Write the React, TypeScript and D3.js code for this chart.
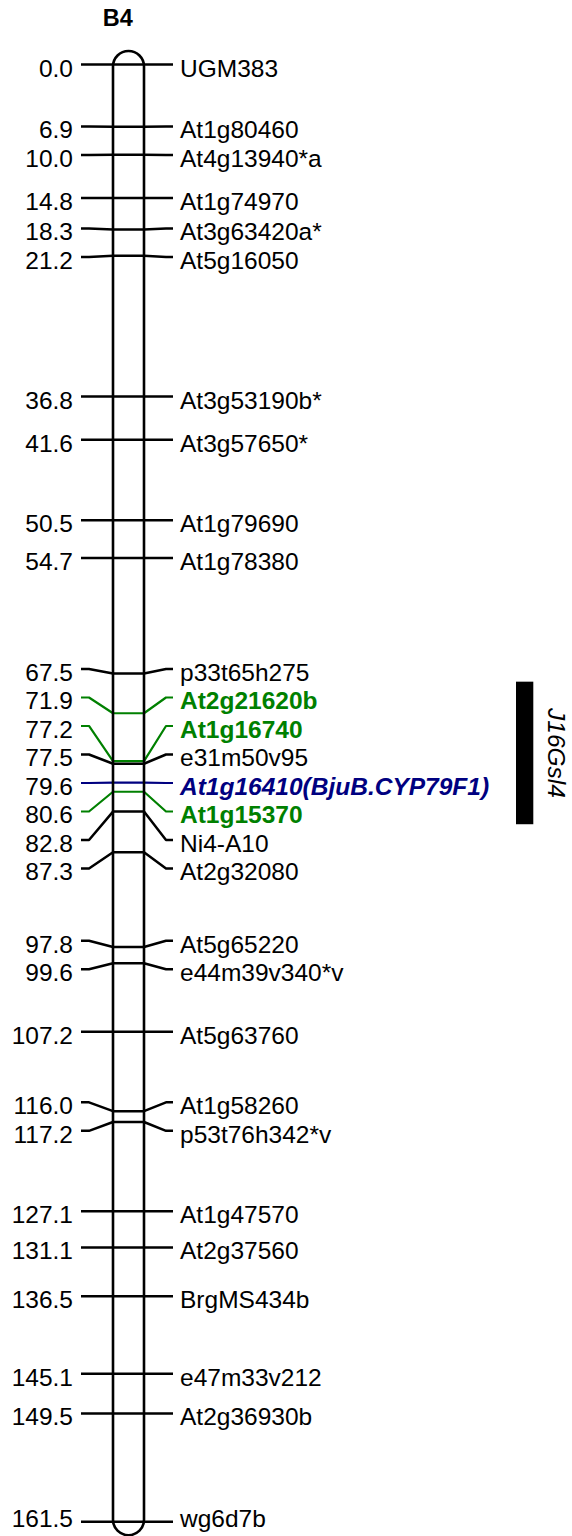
import * as d3 from 'd3'

// Linkage group B4 (cM positions and marker names, top to bottom)
const positions = [
  0.0, 6.9, 10.0, 14.8, 18.3, 21.2, 36.8, 41.6, 50.5, 54.7,
  67.5, 71.9, 77.2, 77.5, 79.6, 80.6, 82.8, 87.3, 97.8, 99.6,
  107.2, 116.0, 117.2, 127.1, 131.1, 136.5, 145.1, 149.5, 161.5,
]
const markers = [
  'UGM383', 'At1g80460', 'At4g13940*a', 'At1g74970', 'At3g63420a*', 'At5g16050',
  'At3g53190b*', 'At3g57650*', 'At1g79690', 'At1g78380', 'p33t65h275',
  'At2g21620b', 'At1g16740', 'e31m50v95', 'At1g16410(BjuB.CYP79F1)', 'At1g15370',
  'Ni4-A10', 'At2g32080', 'At5g65220', 'e44m39v340*v', 'At5g63760', 'At1g58260',
  'p53t76h342*v', 'At1g47570', 'At2g37560', 'BrgMS434b', 'e47m33v212',
  'At2g36930b', 'wg6d7b',
]
const greenMarkers = ['At2g21620b', 'At1g16740', 'At1g15370']
const candidateMarkers = ['At1g16410(BjuB.CYP79F1)']

const groupName = 'B4'
const qtlName = 'J16Gsl4'
const qtlRange = [68.4, 84.2]

const W = 572
const H = 1536
const FONT = '"Liberation Sans", Arial, Helvetica, sans-serif'
const FS = 24.5
const GAP = 28.5

// chromosome geometry
const chrL = 113
const chrR = 144
const chrPad = 13.5

// keep labels apart, as close to their marker as possible (pool adjacent violators)
function layoutLabels(ys: number[], gap: number) {
  const blocks: { n: number; sum: number }[] = []
  ys.forEach(y => {
    blocks.push({ n: 1, sum: y })
    while (blocks.length > 1) {
      const cur = blocks[blocks.length - 1]
      const prev = blocks[blocks.length - 2]
      if (cur.sum / cur.n < prev.sum / prev.n + prev.n * gap) {
        prev.sum += cur.sum - cur.n * prev.n * gap
        prev.n += cur.n
        blocks.pop()
      } else break
    }
  })
  const out: number[] = []
  blocks.forEach(b => {
    const c = b.sum / b.n
    for (let k = 0; k < b.n; k++) out.push(c + k * gap)
  })
  return out
}

export default function App() {
  const y = d3.scaleLinear().domain([0, d3.max(positions) as number]).range([64.5, 1521.7])
  const my = positions.map(p => y(p))
  const ly = layoutLabels(my, GAP)
  // text baseline, kept inside the picture
  const ty = ly.map(v => Math.min(v + 12, H - 8.7))

  const colorOf = (m: string) =>
    greenMarkers.includes(m) ? '#008000' : candidateMarkers.includes(m) ? '#000080' : '#000'

  const line = d3.line<[number, number]>()

  const top = y(0) - chrPad
  const bottom = y(d3.max(positions) as number) + chrPad
  const r = (chrR - chrL) / 2

  return (
    <div style={{ position: 'absolute', left: 0, top: 0 }}>
      <svg width={W} height={H} style={{ display: 'block', background: '#fff' }}>
        <text x={117.7} y={26} textAnchor="middle" fontFamily={FONT} fontSize={23.5} fontWeight="bold">
          {groupName}
        </text>

        <rect x={chrL} y={top} width={chrR - chrL} height={bottom - top} rx={r} ry={r} fill="#fff" />

        {markers.map((m, i) => {
          const c = colorOf(m)
          const pts: [number, number][] = [
            [81, ly[i]], [89, ly[i]], [chrL, my[i]], [chrR, my[i]], [166, ly[i]], [173, ly[i]],
          ]
          const special = c !== '#000'
          return (
            <g key={m}>
              <path d={line(pts) || ''} fill="none" stroke={c} strokeWidth={special ? 2.2 : 2.5} strokeLinejoin="round" />
              <text x={73} y={ty[i]} textAnchor="end" fontFamily={FONT} fontSize={FS} fill="#000">
                {positions[i].toFixed(1)}
              </text>
              <text
                x={180}
                y={ty[i]}
                fontFamily={FONT}
                fontSize={FS}
                fill={c}
                fontWeight={special ? 'bold' : 'normal'}
                fontStyle={candidateMarkers.includes(m) ? 'italic' : 'normal'}
              >
                {m}
              </text>
            </g>
          )
        })}

        <rect x={chrL} y={top} width={chrR - chrL} height={bottom - top} rx={r} ry={r}
          fill="none" stroke="#000" strokeWidth={2.6} />

        <rect x={516} y={y(qtlRange[0])} width={17.3} height={y(qtlRange[1]) - y(qtlRange[0])} fill="#000" />
        <text
          transform={`translate(548, ${(y(qtlRange[0]) + y(qtlRange[1])) / 2}) rotate(90)`}
          textAnchor="middle"
          fontFamily={FONT}
          fontSize={FS}
          fontStyle="italic"
        >
          {qtlName}
        </text>
      </svg>
    </div>
  )
}
